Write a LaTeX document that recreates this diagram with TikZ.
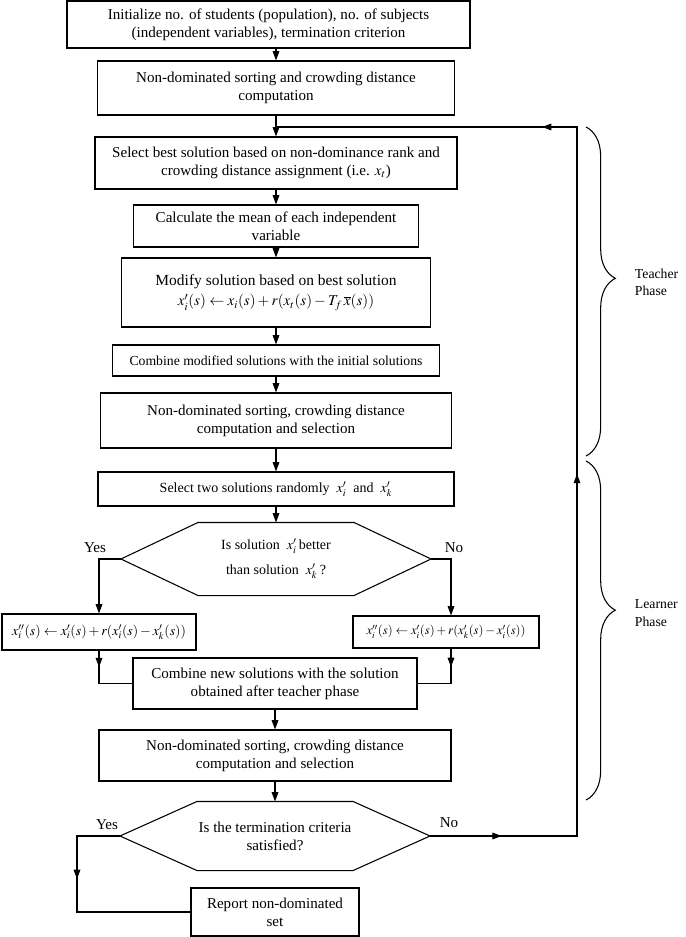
\documentclass[tikz,border=0pt]{standalone}
\usepackage{mathptmx}
\usepackage{fontspec}
\setmainfont{Liberation Serif}
\usetikzlibrary{arrows.meta}
\usetikzlibrary{decorations.markings}
\usetikzlibrary{decorations.pathreplacing}
\tikzstyle{procBox} = [draw,rectangle,align=center,inner sep=0pt]
\tikzstyle{decBox} = [align=center,inner sep=0pt]
\tikzstyle{flow} = [-{Triangle[length=7pt,width=5pt]}]
\tikzstyle{midArrow} = [postaction={decorate},decoration={markings,mark=at position #1 with {\arrow{Triangle[length=7pt,width=5pt]}}}]
\tikzstyle{phaseBrace} = [decorate,decoration={brace,amplitude=22pt,aspect=#1}]
% hexagon round a decision node: node name, cut of the corners
\newcommand{\hexFrame}[2]{\draw (#1.west) -- ([xshift=#2]#1.north west) -- ([xshift=-#2]#1.north east) -- (#1.east) -- ([xshift=-#2]#1.south east) -- ([xshift=#2]#1.south west) -- cycle;}

\begin{document}
\begin{tikzpicture}[x=0.75pt,y=-0.75pt,line width=0.8pt,font=\fontsize{11.3}{13.5}\selectfont]
			\useasboundingbox (0,0) rectangle (685,937);
			% teacher phase
			\node[procBox,minimum width=302.25pt,minimum height=35.25pt] (n1) at (268.5,24.5) {Initialize no. of students (population), no. of subjects\\(independent variables), termination criterion};
			\node[procBox,minimum width=267.75pt,minimum height=40.5pt] (n2) at (276,88) {Non-dominated sorting and crowding distance\\computation};
			\node[procBox,minimum width=271.5pt,minimum height=39pt] (n3) at (276,163) {Select best solution based on non-dominance rank and\\crowding distance assignment (i.e. $x_t$)};
			\node[procBox,minimum width=213.75pt,minimum height=31.5pt] (n4) at (276,226) {Calculate the mean of each independent\\variable};
			\node[procBox,minimum width=231.75pt,minimum height=51.75pt] (n5) at (276,292.5) {\fontsize{11.6}{14}\selectfont Modify solution based on best solution\\[2pt]$x_i'(s)\leftarrow x_i(s)+r(x_t(s)-T_f\,\overline{x}(s))$};
			\node[procBox,minimum width=245.25pt,minimum height=23.25pt,font=\fontsize{10.3}{13.5}\selectfont] (n6) at (276,360.5) {Combine modified solutions with the initial solutions};
			\node[procBox,minimum width=263.25pt,minimum height=41.25pt] (n7) at (276,420.5) {Non-dominated sorting, crowding distance\\computation and selection};
			% learner phase
			\node[procBox,minimum width=267pt,minimum height=25.5pt,font=\fontsize{10.5}{13.5}\selectfont] (n8) at (276,489) {Select two solutions randomly~ $x_i'$~ and~ $x_k'$};
			\node[decBox,minimum width=231.75pt,minimum height=54pt,font=\fontsize{10.5}{13.5}\selectfont] (d1) at (276,559) {Is solution~ $x_i'$\,better\\[5pt]than solution~ $x_k'$\,?};
			\hexFrame{d1}{57.75pt}
			\node[procBox,minimum width=145.5pt,minimum height=27pt,font=\fontsize{10.4}{12}\selectfont] (n9) at (99,632) {$x_i''(s)\leftarrow x_i'(s)+r(x_i'(s)-x_k'(s))$};
			\node[procBox,minimum width=139.5pt,minimum height=24pt,font=\fontsize{9.5}{11}\selectfont] (n10) at (446,632) {$x_i''(s)\leftarrow x_i'(s)+r(x_k'(s)-x_i'(s))$};
			\node[procBox,minimum width=213pt,minimum height=38.25pt] (n11) at (275,683.5) {Combine new solutions with the solution\\obtained after teacher phase};
			\node[procBox,minimum width=264pt,minimum height=38.25pt] (n12) at (275,755.5) {Non-dominated sorting, crowding distance\\computation and selection};
			\node[decBox,minimum width=231.75pt,minimum height=51pt] (d2) at (275,836) {Is the termination criteria\\satisfied?};
			\hexFrame{d2}{57.75pt}
			\node[procBox,minimum width=126pt,minimum height=36pt] (n13) at (275,912) {Report non-dominated\\set};
			\node (yes1) at (95,548) {Yes};
			\node (no1) at (454,548) {No};
			\node (yes2) at (107,825) {Yes};
			\node (no2) at (449,823) {No};
			\coordinate (loopTop) at (577,127);
			\coordinate (loopIn) at (276,127);
			\coordinate (stopBend) at (77,836);
			\draw[flow] (n1.south -| n2.north) -- (n2.north);
			\draw[flow] (n2) -- (n3);
			\draw[flow] (n3) -- (n4);
			\draw[flow] (n4) -- (n5);
			\draw[flow] (n5) -- (n6);
			\draw[flow] (n6) -- (n7);
			\draw[flow] (n7) -- (n8);
			\draw[flow] (n8) -- (d1);
			\draw[flow] (d1.west) -| (n9.north);
			\draw[flow] (d1.east) -| ([xshift=3.75pt]n10.north);
			\draw[midArrow=0.25] (n9.south) |- (n11.west);
			\draw[midArrow=0.27] ([xshift=3.75pt]n10.south) |- (n11.east);
			\draw[flow] (n11) -- (n12);
			\draw[flow] (n12) -- (d2);
			\draw[midArrow=0.37] (d2.west) -- (stopBend) |- (n13.west);
			\draw[postaction={decorate},decoration={markings,
				mark=at position 0.062 with {\arrow{Triangle[length=7pt,width=5pt]}},
				mark=at position 0.44 with {\arrow{Triangle[length=7pt,width=5pt]}},
				mark=at position 0.77 with {\arrow{Triangle[length=7pt,width=5pt]}}}]
				(d2.east) -| (loopTop) -- (loopIn);
			% phases
			\draw[phaseBrace=0.46] (586,127) -- (586,456);
			\draw[phaseBrace=0.44] (586,461) -- (586,800);
			\node[anchor=west,align=left,font=\fontsize{10.3}{13}\selectfont] (teach) at (630,282) {Teacher\\Phase};
			\node[anchor=west,align=left,font=\fontsize{10.3}{13}\selectfont] (learn) at (630,613) {Learner\\Phase};
		\end{tikzpicture}
\end{document}
